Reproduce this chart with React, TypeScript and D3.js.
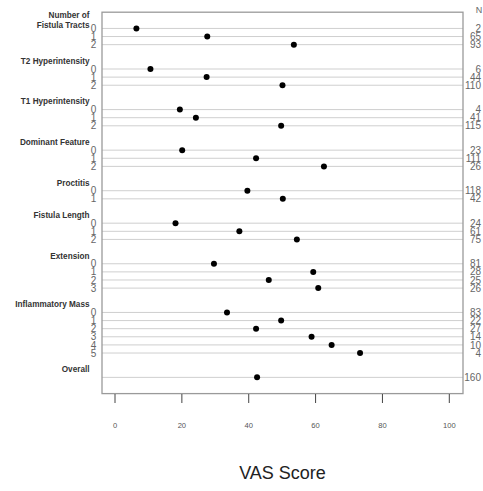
import React from "react";
import * as d3 from "d3";

const groupNames = [
  ["Number of", "Fistula Tracts"],
  ["T2 Hyperintensity"],
  ["T1 Hyperintensity"],
  ["Dominant Feature"],
  ["Proctitis"],
  ["Fistula Length"],
  ["Extension"],
  ["Inflammatory Mass"],
  ["Overall"],
];
const groupLevels = [
  ["0", "1", "2"],
  ["0", "1", "2"],
  ["0", "1", "2"],
  ["0", "1", "2"],
  ["0", "1"],
  ["0", "1", "2"],
  ["0", "1", "2", "3"],
  ["0", "1", "2", "3", "4", "5"],
  [""],
];
const groupValues = [
  [6.4, 27.6, 53.5],
  [10.6, 27.4, 50.1],
  [19.4, 24.2, 49.7],
  [20.1, 42.2, 62.5],
  [39.6, 50.2],
  [18.1, 37.2, 54.4],
  [29.6, 59.3, 46.0, 60.8],
  [33.5, 49.7, 42.2, 58.8, 64.8, 73.3],
  [42.5],
];
const groupN = [
  ["2", "65", "93"],
  ["6", "44", "110"],
  ["4", "41", "115"],
  ["23", "111", "26"],
  ["118", "42"],
  ["24", "61", "75"],
  ["81", "28", "25", "26"],
  ["83", "22", "27", "14", "10", "4"],
  ["160"],
];
const xTicks = [0, 20, 40, 60, 80, 100];
const xTitle = "VAS Score";

export default function App() {
  const W = 483, H = 491;
  const left = 102, right = 463;
  const x = d3.scaleLinear().domain([0, 100]).range([115, 449.3]);
  const y = d3.scaleLinear().domain([-2, 45]).range([12.2, 393.6]);

  // compute slots
  const rows: { slot: number; level: string; value: number; n: string }[] = [];
  const headers: { slot: number; lines: string[] }[] = [];
  let slot = 0;
  groupNames.forEach((g, gi) => {
    headers.push({ slot: slot - 1, lines: g });
    groupLevels[gi].forEach((lv, li) => {
      rows.push({ slot, level: lv, value: groupValues[gi][li], n: groupN[gi][li] });
      slot++;
    });
    slot += 2;
  });

  const font = "Arial, 'Liberation Sans', sans-serif";
  return (
    <svg width={W} height={H} style={{ position: "absolute", left: 0, top: 0 }} fontFamily={font}>
      <rect x={0} y={0} width={W} height={H} fill="#fff" />
      {rows.map((r, i) => (
        <line key={"l" + i} x1={left} x2={right} y1={y(r.slot)} y2={y(r.slot)} stroke="#cfcfcf" strokeWidth={1} />
      ))}
      <rect x={left} y={y(-2)} width={right - left} height={y(45) - y(-2)} fill="none" stroke="#9a9a9a" strokeWidth={1.3} />
      {rows.map((r, i) => (
        <circle key={"c" + i} cx={x(r.value)} cy={y(r.slot)} r={3} fill="#000" />
      ))}
      {rows.map((r, i) => (
        <text key={"t" + i} x={93.5} y={y(r.slot) + 3.6} fontSize={10} fill="#666" textAnchor="middle">{r.level}</text>
      ))}
      {rows.map((r, i) => (
        <text key={"n" + i} x={481} y={y(r.slot) + 3.6} fontSize={10} fill="#666" textAnchor="end">{r.n}</text>
      ))}
      <text x={479} y={13} fontSize={9} fill="#666" textAnchor="middle">N</text>
      {headers.map((h, i) => (
        <text key={"h" + i} x={89.5} fontSize={8.2} fontWeight="bold" fill="#333" textAnchor="end">
          {h.lines.map((ln, k) => (
            <tspan key={k} x={89.5} y={y(h.slot) + 3 + (k - (h.lines.length - 1) / 2) * 10}>{ln}</tspan>
          ))}
        </text>
      ))}
      {xTicks.map((t) => (
        <g key={t}>
          <line x1={x(t)} x2={x(t)} y1={394} y2={403} stroke="#444" strokeWidth={1} />
          <text x={x(t)} y={428} fontSize={7.6} fill="#555" textAnchor="middle">{t}</text>
        </g>
      ))}
      <text x={(left + right) / 2} y={479} fontSize={18} fill="#222" textAnchor="middle">{xTitle}</text>
    </svg>
  );
}
